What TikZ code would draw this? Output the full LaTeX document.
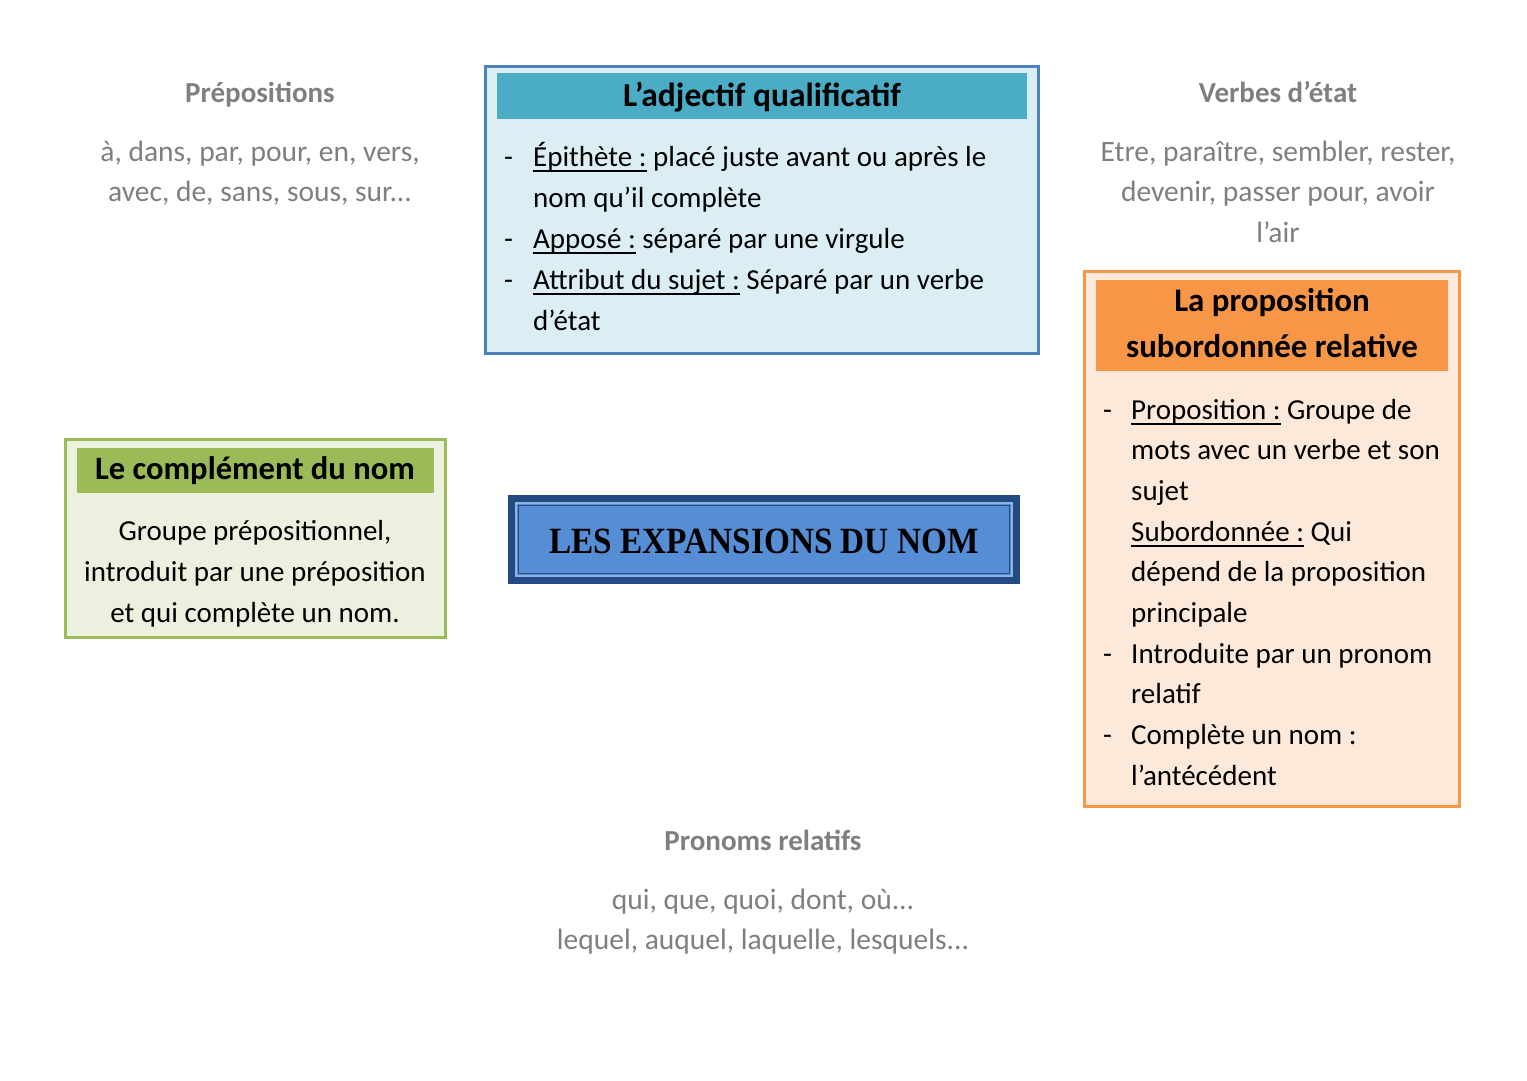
\documentclass[tikz,border=0pt]{standalone}
\usepackage{fontspec}
\setmainfont{Carlito}
\newfontfamily\titlefont[FakeStretch=0.9]{Liberation Serif}
\usepackage{array}
\definecolor{graytxt}{HTML}{7F7F7F}
\definecolor{adjborder}{HTML}{4F81BD}
\definecolor{adjfill}{HTML}{DBEEF4}
\definecolor{adjhead}{HTML}{4BACC6}
\definecolor{cnborder}{HTML}{9BBB59}
\definecolor{cnfill}{HTML}{EBF1DE}
\definecolor{relborder}{HTML}{F79646}
\definecolor{relfill}{HTML}{FDE9D9}
\definecolor{ctrdark}{HTML}{244A83}
\definecolor{ctrfill}{HTML}{558ED5}
\definecolor{ctrlight}{HTML}{8DB3E2}
\newcommand\ulx[1]{\setbox0\hbox{#1}\rlap{\rule[-5.5pt]{\wd0}{1.8pt}}\box0\relax}
\begin{document}
\begin{tikzpicture}[x=1pt,y=-1pt,
  frame/.style={rectangle, draw, line width=3pt, inner sep=0pt},
  headbar/.style={rectangle, inner sep=0pt},
  body/.style={inner sep=0pt, font=\fontsize{29}{41}\selectfont},
  bodyr/.style={inner sep=0pt, font=\fontsize{29}{40.7}\selectfont},
  headtxt/.style={inner sep=0pt, font=\fontsize{33.5}{46}\selectfont\bfseries},
  graytitle/.style={inner sep=0pt, text=graytxt, font=\fontsize{29}{41}\selectfont\bfseries},
  graybody/.style={inner sep=0pt, text=graytxt, font=\fontsize{29.5}{40.5}\selectfont}]
\useasboundingbox[fill=white] (0,0) rectangle (1527,1080);

% Prepositions
\node[graytitle, anchor=base] (prepT) at (260,102) {Prépositions};
\node[graybody, anchor=base] (prepB) at (260,161) {\begin{tabular}[t]{@{}c@{}}à, dans, par, pour, en, vers,\\ avec, de, sans, sous, sur...\end{tabular}};

% Verbes d'etat
\node[graytitle, anchor=base] (verbT) at (1278,102) {Verbes d’état};
\node[graybody, anchor=base] (verbB) at (1278,161) {\begin{tabular}[t]{@{}c@{}}Etre, paraître, sembler, rester,\\ devenir, passer pour, avoir\\ l’air\end{tabular}};

% Pronoms relatifs
\node[graytitle, anchor=base] (pronT) at (763,850) {Pronoms relatifs};
\node[graybody, anchor=base] (pronB) at (763,909) {\begin{tabular}[t]{@{}c@{}}qui, que, quoi, dont, où...\\ lequel, auquel, laquelle, lesquels...\end{tabular}};

% Adjectif qualificatif
\node[frame, draw=adjborder, fill=adjfill, minimum width=553pt, minimum height=287pt] (adj) at (762,210) {};
\node[headbar, fill=adjhead, minimum width=530pt, minimum height=46pt] (adjH) at (762,96) {};
\node[headtxt, anchor=base] (adjHT) at (762,106) {L’adjectif qualificatif};
\node[body, anchor=base west] (adjB) at (504,166) {\begin{tabular}[t]{@{}p{29pt}@{}l@{}}
-&\ulx{Épithète :} placé juste avant ou après le\\
 &nom qu’il complète\\
-&\ulx{Apposé :} séparé par une virgule\\
-&\ulx{Attribut du sujet :} Séparé par un verbe\\
 &d’état
\end{tabular}};

% Center title
\node[rectangle, fill=ctrdark, minimum width=512pt, minimum height=89pt, inner sep=0pt] (ctr) at (764,539.5) {};
\node[rectangle, fill=ctrfill, draw=ctrlight, line width=1.2pt, minimum width=496pt, minimum height=73pt, inner sep=0pt] (ctrIn) at (764,539.5) {};
\node[rectangle, draw=ctrdark, line width=1pt, minimum width=491pt, minimum height=68pt, inner sep=0pt] (ctrIn2) at (764,539.5) {};
\node[inner sep=0pt, anchor=base, font=\fontsize{37}{42}\selectfont\titlefont\bfseries] (ctrT) at (764,553) {LES EXPANSIONS DU NOM};

% Complement du nom
\node[frame, draw=cnborder, fill=cnfill, minimum width=380pt, minimum height=198pt] (cn) at (255.5,538.5) {};
\node[headbar, fill=cnborder, minimum width=357pt, minimum height=45pt] (cnH) at (255.5,470.5) {};
\node[headtxt, font=\fontsize{32.6}{44}\selectfont\bfseries, anchor=base] (cnHT) at (255,479) {Le complément du nom};
\node[body, anchor=base] (cnB) at (255,540) {\begin{tabular}[t]{@{}c@{}}Groupe prépositionnel,\\ introduit par une préposition\\ et qui complète un nom.\end{tabular}};

% Proposition subordonnee relative
\node[frame, draw=relborder, fill=relfill, minimum width=375pt, minimum height=535pt] (rel) at (1272,539) {};
\node[headbar, fill=relborder, minimum width=352pt, minimum height=91pt] (relH) at (1272,325.5) {};
\node[headtxt, font=\fontsize{32.9}{46}\selectfont\bfseries, anchor=base] (relHT) at (1272,311) {\begin{tabular}[t]{@{}c@{}}La proposition\\ subordonnée relative\end{tabular}};
\node[bodyr, anchor=base west] (relB) at (1103,419) {\begin{tabular}[t]{@{}p{28pt}@{}l@{}}
-&\ulx{Proposition :} Groupe de\\
 &mots avec un verbe et son\\
 &sujet\\
 &\ulx{Subordonnée :} Qui\\
 &dépend de la proposition\\
 &principale\\
-&Introduite par un pronom\\
 &relatif\\
-&Complète un nom :\\
 &l’antécédent
\end{tabular}};
\end{tikzpicture}
\end{document}
